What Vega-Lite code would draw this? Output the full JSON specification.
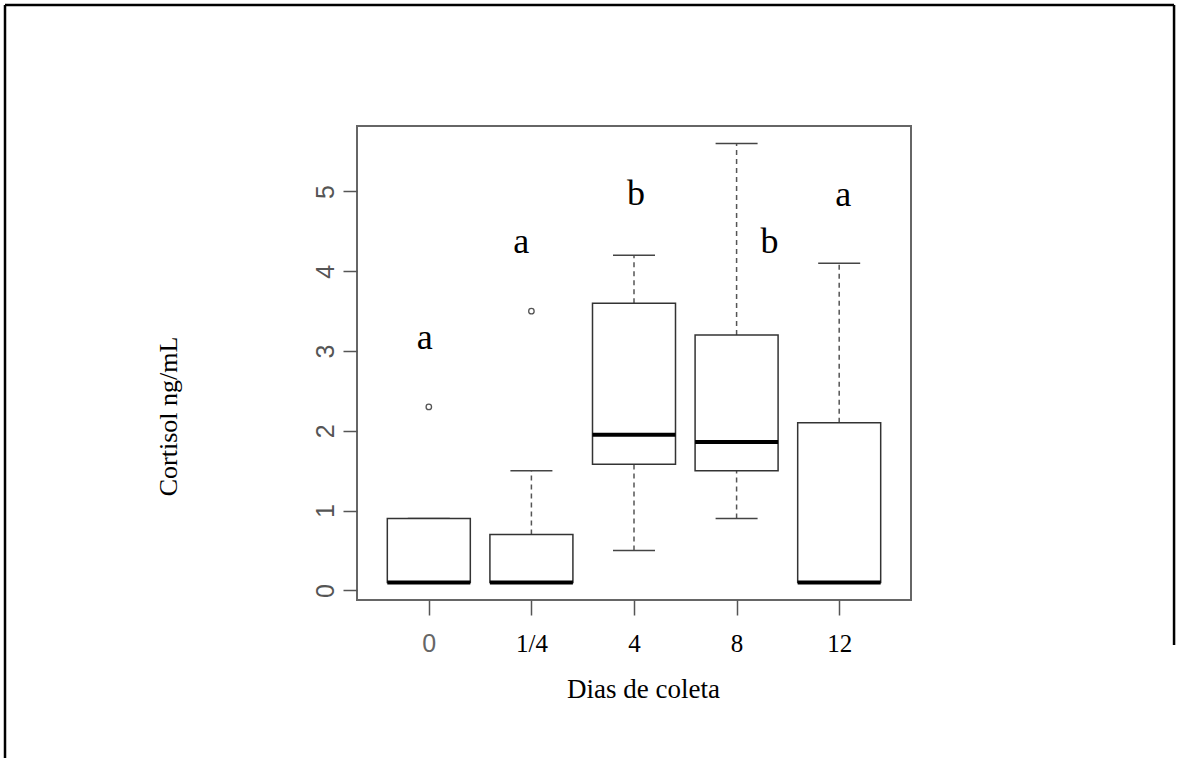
{
  "$schema": "https://vega.github.io/schema/vega-lite/v6.json",
  "width": 554,
  "height": 474,
  "autosize": {"type": "none"},
  "padding": {"left": 357, "top": 126, "right": 267, "bottom": 158},
  "background": "white",
  "config": {
    "view": {"stroke": "#666", "strokeWidth": 2},
    "axis": {"grid": false, "domain": false},
    "scale": {"continuousPadding": 0}
  },
  "datasets": {
    "boxes": [
      {"dia": "0", "idx": 1, "lower": 0.1, "q1": 0.1, "median": 0.1, "q3": 0.9, "upper": 0.9},
      {"dia": "1/4", "idx": 2, "lower": 0.1, "q1": 0.1, "median": 0.1, "q3": 0.7, "upper": 1.5},
      {"dia": "4", "idx": 3, "lower": 0.5, "q1": 1.58, "median": 1.95, "q3": 3.6, "upper": 4.2},
      {"dia": "8", "idx": 4, "lower": 0.9, "q1": 1.5, "median": 1.86, "q3": 3.2, "upper": 5.6},
      {"dia": "12", "idx": 5, "lower": 0.1, "q1": 0.1, "median": 0.1, "q3": 2.1, "upper": 4.1}
    ],
    "outliers": [
      {"dia": "0", "idx": 1, "valor": 2.3},
      {"dia": "1/4", "idx": 2, "valor": 3.5}
    ],
    "letras": [
      {"pos": 0.96, "y": 3.03, "letra": "a"},
      {"pos": 1.9, "y": 4.23, "letra": "a"},
      {"pos": 3.02, "y": 4.83, "letra": "b"},
      {"pos": 4.32, "y": 4.23, "letra": "b"},
      {"pos": 5.04, "y": 4.82, "letra": "a"}
    ],
    "moldura": [{"parte": "borda"}]
  },
  "layer": [
    {
      "data": {"name": "boxes"},
      "mark": {"type": "rule", "strokeDash": [5, 4], "color": "#555", "strokeWidth": 1.5},
      "encoding": {
        "x": {"field": "idx", "type": "quantitative", "scale": {"domain": [0.3, 5.7], "nice": false, "zero": false, "padding": 0},
          "axis": {"values": [1, 2, 3, 4, 5], "labelExpr": "['0','1/4','4','8','12'][datum.value-1]",
            "title": "Dias de coleta", "titleFont": "Liberation Serif", "titleFontSize": 27, "titleFontWeight": "normal", "titleColor": "black",
            "titleX": 286, "titleY": 97, "titleBaseline": "alphabetic",
            "labelFont": {"condition": {"test": "datum.value == 1", "value": "Liberation Sans"}, "value": "Liberation Serif"},
            "labelColor": {"condition": {"test": "datum.value == 1", "value": "#666"}, "value": "black"},
            "labelFontSize": 25, "labelPadding": 16, "tickSize": 15, "tickColor": "#555", "tickWidth": 1.5, "labelFlush": false, "labelOverlap": false}},
        "y": {"field": "q3", "type": "quantitative", "scale": {"domain": [-0.12, 5.82], "nice": false, "zero": false, "padding": 0},
          "axis": {"values": [0, 1, 2, 3, 4, 5], "format": "d", "labelAngle": 270, "labelAlign": "center", "labelBaseline": "bottom",
            "labelFont": "Liberation Sans", "labelFontSize": 25, "labelColor": "#555", "labelPadding": 5,
            "tickSize": 14, "tickColor": "#555", "tickWidth": 1.5,
            "title": "Cortisol ng/mL", "titleFont": "Liberation Serif", "titleFontSize": 26, "titleFontWeight": "normal", "titleColor": "black",
            "titleX": -189, "titleY": 290, "titleAngle": 270, "titleAlign": "center", "titleBaseline": "middle"}},
        "y2": {"field": "upper"}
      }
    },
    {
      "data": {"name": "boxes"},
      "mark": {"type": "rule", "strokeDash": [5, 4], "color": "#555", "strokeWidth": 1.5},
      "encoding": {
        "x": {"field": "idx", "type": "quantitative", "scale": {"domain": [0.3, 5.7], "nice": false, "zero": false, "padding": 0}},
        "y": {"field": "lower", "type": "quantitative", "scale": {"domain": [-0.12, 5.82], "nice": false, "zero": false, "padding": 0}},
        "y2": {"field": "q1"}
      }
    },
    {
      "data": {"name": "boxes"},
      "mark": {"type": "tick", "orient": "horizontal", "size": 42, "thickness": 1.5, "color": "#444", "opacity": 1},
      "encoding": {
        "x": {"field": "idx", "type": "quantitative", "scale": {"domain": [0.3, 5.7], "nice": false, "zero": false, "padding": 0}},
        "y": {"field": "upper", "type": "quantitative", "scale": {"domain": [-0.12, 5.82], "nice": false, "zero": false, "padding": 0}}
      }
    },
    {
      "data": {"name": "boxes"},
      "mark": {"type": "tick", "orient": "horizontal", "size": 42, "thickness": 1.5, "color": "#444", "opacity": 1},
      "encoding": {
        "x": {"field": "idx", "type": "quantitative", "scale": {"domain": [0.3, 5.7], "nice": false, "zero": false, "padding": 0}},
        "y": {"field": "lower", "type": "quantitative", "scale": {"domain": [-0.12, 5.82], "nice": false, "zero": false, "padding": 0}}
      }
    },
    {
      "data": {"name": "boxes"},
      "mark": {"type": "bar", "orient": "vertical", "size": 83, "fill": "white", "stroke": "#333", "strokeWidth": 1.5},
      "encoding": {
        "x": {"field": "idx", "type": "quantitative", "scale": {"domain": [0.3, 5.7], "nice": false, "zero": false, "padding": 0}},
        "y": {"field": "q1", "type": "quantitative", "scale": {"domain": [-0.12, 5.82], "nice": false, "zero": false, "padding": 0}},
        "y2": {"field": "q3"}
      }
    },
    {
      "data": {"name": "boxes"},
      "mark": {"type": "tick", "orient": "horizontal", "size": 83, "thickness": 4, "color": "black", "opacity": 1},
      "encoding": {
        "x": {"field": "idx", "type": "quantitative", "scale": {"domain": [0.3, 5.7], "nice": false, "zero": false, "padding": 0}},
        "y": {"field": "median", "type": "quantitative", "scale": {"domain": [-0.12, 5.82], "nice": false, "zero": false, "padding": 0}}
      }
    },
    {
      "data": {"name": "outliers"},
      "mark": {"type": "point", "shape": "circle", "filled": false, "size": 30, "color": "#555", "strokeWidth": 1.3, "opacity": 1},
      "encoding": {
        "x": {"field": "idx", "type": "quantitative", "scale": {"domain": [0.3, 5.7], "nice": false, "zero": false, "padding": 0}},
        "y": {"field": "valor", "type": "quantitative", "scale": {"domain": [-0.12, 5.82], "nice": false, "zero": false, "padding": 0}}
      }
    },
    {
      "data": {"name": "letras"},
      "mark": {"type": "text", "font": "Liberation Serif", "fontSize": 36, "align": "center", "baseline": "alphabetic", "color": "black"},
      "encoding": {
        "x": {"field": "pos", "type": "quantitative", "scale": {"domain": [0.3, 5.7], "nice": false, "zero": false, "padding": 0}},
        "y": {"field": "y", "type": "quantitative", "scale": {"domain": [-0.12, 5.82], "nice": false, "zero": false, "padding": 0}},
        "text": {"field": "letra"}
      }
    },
    {
      "data": {"name": "moldura"},
      "mark": {"type": "rule", "color": "black", "strokeWidth": 2.5, "clip": false},
      "encoding": {
        "x": {"datum": -3.131, "type": "quantitative"},
        "x2": {"datum": 8.264},
        "y": {"datum": 7.336, "type": "quantitative"}
      }
    },
    {
      "data": {"name": "moldura"},
      "mark": {"type": "rule", "color": "black", "strokeWidth": 2.5, "clip": false},
      "encoding": {
        "x": {"datum": -3.131, "type": "quantitative"},
        "y": {"datum": 7.336, "type": "quantitative"},
        "y2": {"datum": -2.5}
      }
    },
    {
      "data": {"name": "moldura"},
      "mark": {"type": "rule", "color": "black", "strokeWidth": 2.5, "clip": false},
      "encoding": {
        "x": {"datum": 8.264, "type": "quantitative"},
        "y": {"datum": 7.336, "type": "quantitative"},
        "y2": {"datum": -0.684}
      }
    }
  ]
}
